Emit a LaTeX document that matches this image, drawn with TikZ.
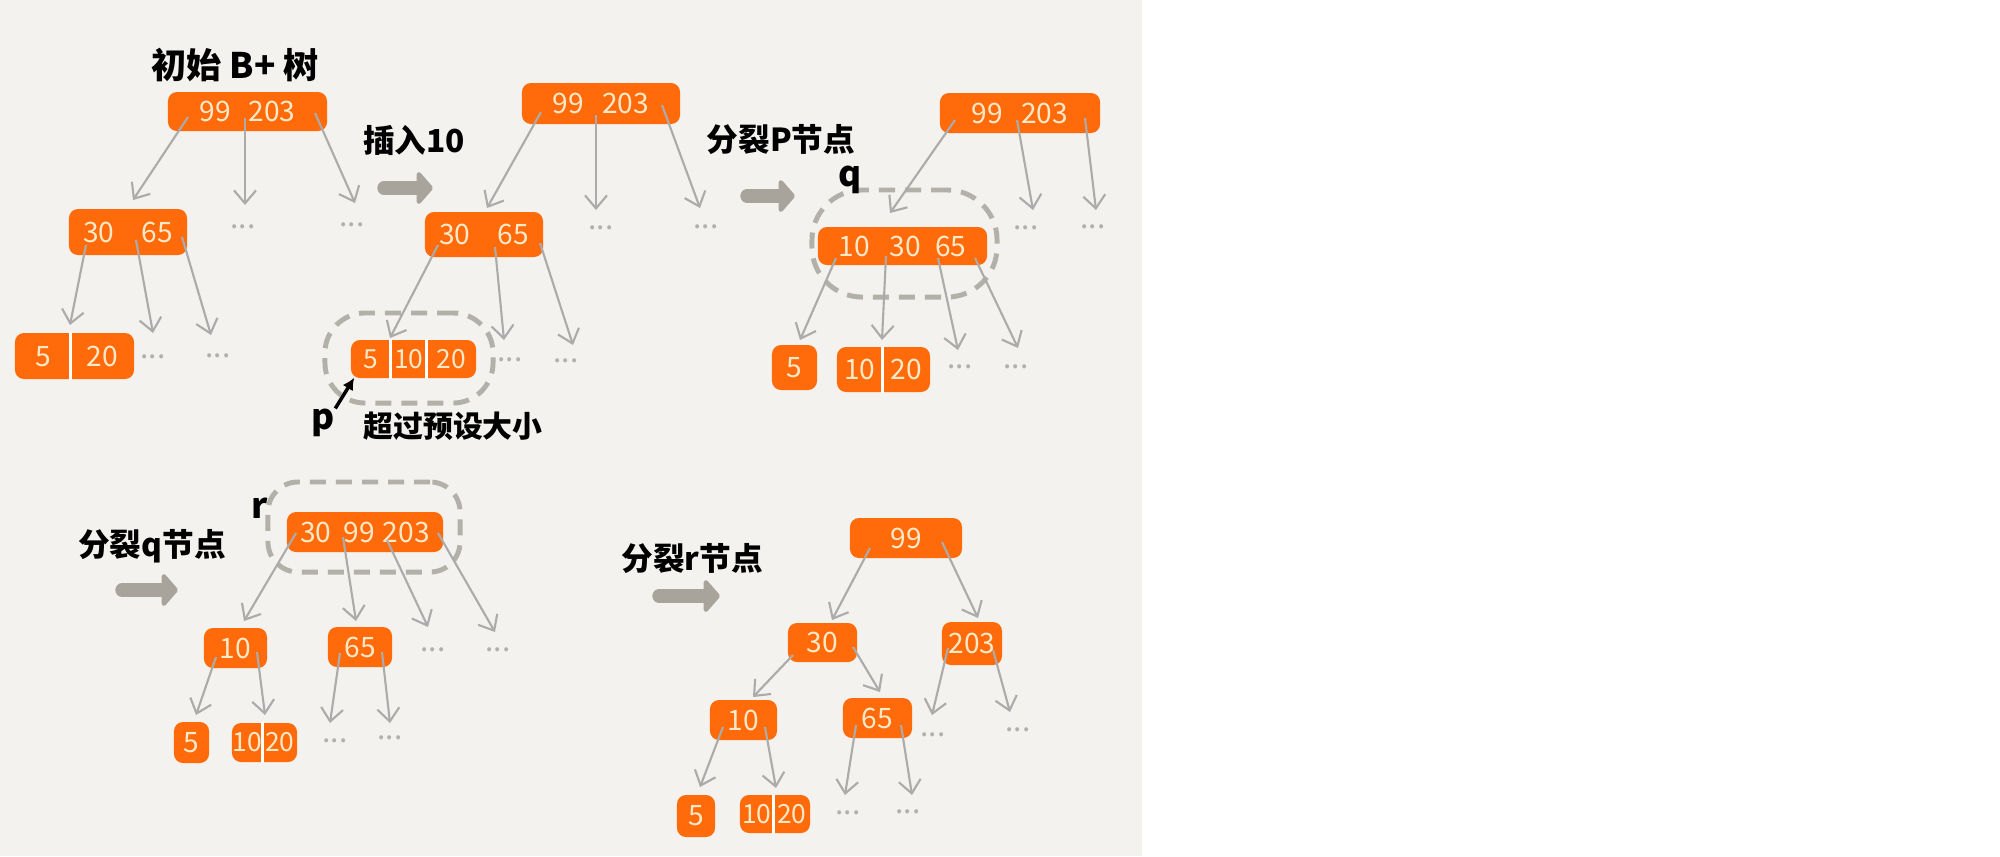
\documentclass[tikz,border=0pt]{standalone}
\usepackage{fontspec}
\setmainfont{Noto Sans CJK SC}
\usetikzlibrary{arrows.meta}
\definecolor{bg}{HTML}{F4F2EE}
\definecolor{org}{HTML}{FF6B0A}
\definecolor{cream}{HTML}{FDE8C8}
\definecolor{lnk}{HTML}{ABABAB}
\definecolor{dsh}{HTML}{B3B0AA}
\definecolor{bigarr}{HTML}{A8A49C}
\definecolor{dotc}{HTML}{B0B0B0}
\tikzset{
 key/.style={fill=org, rounded corners=0.09cm, inner sep=0pt, text=cream, font=\fontsize{8}{9}\selectfont},
 smallkey/.style={key, font=\fontsize{7.5}{9}\selectfont},
 con/.style={draw=lnk, line width=0.6pt, -{Straight Barb[length=0.13cm,width=0.22cm]}},
 dots/.style={text=dotc, font=\fontsize{8.5}{9}\selectfont, inner sep=0pt},
 lbl/.style={font=\fontsize{9}{11}\selectfont\bfseries, inner sep=0pt, text=black},
 ring/.style={draw=dsh, line width=1.4pt, dash pattern=on 0.16cm off 0.1cm},
 bigarrow/.style={draw=bigarr, line width=3.8pt, line cap=round, -{Triangle[round,length=0.17cm,width=0.38cm]}},
 divl/.style={draw=white, line width=0.7pt},
 ptr/.style={draw=black, line width=1pt, -{Latex[length=0.12cm,width=0.12cm]}},
}
\begin{document}
\begin{tikzpicture}[x=0.01cm,y=-0.01cm]
\useasboundingbox (0,0) rectangle (2000,856);
\fill[white] (0,0) rectangle (2000,856);
\fill[bg] (0,0) rectangle (1142,856);

% ---------- rings ----------
\node[ring, rounded corners=0.4cm, minimum width=1.68cm, minimum height=0.9cm] (e2) at (409,358) {};
\node[ring, rounded corners=0.5cm, minimum width=1.85cm, minimum height=1.07cm] (e3) at (904.5,243.5) {};
\node[ring, rounded corners=0.3cm, minimum width=1.92cm, minimum height=0.9cm] (e4) at (364,527) {};

% ---------- labels ----------
\node[lbl, font=\fontsize{10}{12}\selectfont\bfseries] (t1) at (235,65) {初始 B+ 树};
\node[lbl] (t2) at (414,140) {插入10};
\node[lbl, font=\fontsize{8.5}{10}\selectfont\bfseries] (t3) at (453,426) {超过预设大小};
\node[lbl] (t4) at (781,140) {分裂P节点};
\node[lbl] (t5) at (152,546) {分裂q节点};
\node[lbl] (t6) at (692,558) {分裂r节点};
\node[lbl, font=\fontsize{10}{12}\selectfont\bfseries] (p) at (323,423) {p};
\node[lbl, font=\fontsize{10}{12}\selectfont\bfseries] (q) at (850,180) {q};
\node[lbl, font=\fontsize{10}{12}\selectfont\bfseries] (r) at (260,508) {r};

% ---------- big arrows ----------
\coordinate (a1s) at (384,188); \coordinate (a1e) at (433,188);
\coordinate (a2s) at (747,196); \coordinate (a2e) at (795,196);
\coordinate (a3s) at (122,590); \coordinate (a3e) at (178,590);
\coordinate (a4s) at (659,596); \coordinate (a4e) at (720,596);
\draw[bigarrow] (a1s) -- (a1e);
\draw[bigarrow] (a2s) -- (a2e);
\draw[bigarrow] (a3s) -- (a3e);
\draw[bigarrow] (a4s) -- (a4e);

% ---------- panel 1 ----------
\node[key, minimum width=1.59cm, minimum height=0.39cm] (r1) at (247.5,111.5) {99\hspace{0.18cm}203};
\node[key, minimum width=1.18cm, minimum height=0.46cm] (n1) at (128,232) {30\hspace{0.27cm}65};
\node[key, minimum height=0.46cm] (l1) at (74.5,356) {\makebox[0.56cm]{5}\makebox[0.63cm]{20}};
\draw[divl] ([xshift=0.56cm]l1.north west) -- ([xshift=0.56cm]l1.south west);
\node[dots] (d1a) at (243,227) {...};
\node[dots] (d1b) at (352,225) {...};
\node[dots] (d1c) at (153,357) {...};
\node[dots] (d1d) at (218,356) {...};
\draw[con] ([shift={(-59.5,5.5)}]r1.center) -- ([shift={(5,-32)}]n1.center);
\draw[con] ([shift={(-2.5,6.5)}]r1.center) -- ([shift={(2,-22)}]d1a.center);
\draw[con] ([shift={(67.5,1.5)}]r1.center) -- ([shift={(3,-22)}]d1b.center);
\draw[con] ([shift={(-42,13)}]n1.center) -- ([shift={(-4.5,-31)}]l1.center);
\draw[con] ([shift={(8,8)}]n1.center) -- ([shift={(0,-24)}]d1c.center);
\draw[con] ([shift={(54,5)}]n1.center) -- ([shift={(-7,-21)}]d1d.center);

% ---------- panel 2 ----------
\node[key, minimum width=1.58cm, minimum height=0.41cm] (r2) at (601,103.5) {99\hspace{0.18cm}203};
\node[key, minimum width=1.18cm, minimum height=0.45cm] (n2) at (484,234.5) {30\hspace{0.27cm}65};
\node[smallkey, minimum height=0.38cm] (l2) at (413.5,359) {\makebox[0.40cm]{5}\makebox[0.36cm]{10}\makebox[0.49cm]{20}};
\draw[divl] ([xshift=0.40cm]l2.north west) -- ([xshift=0.40cm]l2.south west);
\draw[divl] ([xshift=0.76cm]l2.north west) -- ([xshift=0.76cm]l2.south west);
\node[dots] (d2a) at (601,228) {...};
\node[dots] (d2b) at (706,227) {...};
\node[dots] (d2c) at (510,360) {...};
\node[dots] (d2d) at (566,361) {...};
\draw[con] ([shift={(-60,8.5)}]r2.center) -- ([shift={(3,-26.5)}]n2.center);
\draw[con] ([shift={(-5,11.5)}]r2.center) -- ([shift={(-5,-18)}]d2a.center);
\draw[con] ([shift={(61,1.5)}]r2.center) -- ([shift={(-6,-19)}]d2b.center);
\draw[con] ([shift={(-46,10.5)}]n2.center) -- ([shift={(-23.5,-21)}]l2.center);
\draw[con] ([shift={(11,12.5)}]n2.center) -- ([shift={(-6,-20)}]d2c.center);
\draw[con] ([shift={(56,8.5)}]n2.center) -- ([shift={(7,-16)}]d2d.center);
\draw[ptr] (p.north east) -- ([shift={(4,-1)}]l2.south west);

% ---------- panel 3 ----------
\node[key, minimum width=1.60cm, minimum height=0.40cm] (r3) at (1020,113) {99\hspace{0.18cm}203};
\node[key, minimum width=1.69cm, minimum height=0.38cm] (n3) at (902.5,246) {10\hspace{0.2cm}30\hspace{0.14cm}65};
\node[key, minimum width=0.45cm, minimum height=0.45cm] (l3a) at (794.5,367.5) {5};
\node[key, minimum height=0.45cm] (l3b) at (883.5,369.5) {\makebox[0.46cm]{10}\makebox[0.47cm]{20}};
\draw[divl] ([xshift=0.46cm]l3b.north west) -- ([xshift=0.46cm]l3b.south west);
\node[dots] (d3a) at (1026,228) {...};
\node[dots] (d3b) at (1093,227) {...};
\node[dots] (d3c) at (960,367) {...};
\node[dots] (d3d) at (1016,367) {...};
\draw[con] ([shift={(-65,7)}]r3.center) -- ([shift={(-12.5,-33)}]n3.center);
\draw[con] ([shift={(-3,7)}]r3.center) -- ([shift={(7,-18)}]d3a.center);
\draw[con] ([shift={(65,5)}]r3.center) -- ([shift={(3,-17)}]d3b.center);
\draw[con] ([shift={(-66.5,12)}]n3.center) -- ([shift={(5.5,-27.5)}]l3a.center);
\draw[con] ([shift={(-16.5,10)}]n3.center) -- ([shift={(-1.5,-29.5)}]l3b.center);
\draw[con] ([shift={(35.5,12)}]n3.center) -- ([shift={(-2,-17)}]d3c.center);
\draw[con] ([shift={(72.5,12)}]n3.center) -- ([shift={(2,-19)}]d3d.center);

% ---------- panel 4 ----------
\node[key, minimum width=1.56cm, minimum height=0.40cm] (r4) at (365,532) {30\hspace{0.12cm}99\hspace{0.08cm}203};
\node[key, minimum width=0.63cm, minimum height=0.40cm] (n4a) at (235.5,648) {10};
\node[key, minimum width=0.64cm, minimum height=0.40cm] (n4b) at (360,647) {65};
\node[key, minimum width=0.35cm, minimum height=0.41cm] (l4a) at (191.5,742.5) {5};
\node[smallkey, minimum height=0.39cm] (l4b) at (264.5,742.5) {\makebox[0.31cm]{10}\makebox[0.34cm]{20}};
\draw[divl] ([xshift=0.31cm]l4b.north west) -- ([xshift=0.31cm]l4b.south west);
\node[dots] (d4a) at (433,650) {...};
\node[dots] (d4b) at (498,650) {...};
\node[dots] (d4c) at (335,741) {...};
\node[dots] (d4d) at (390,738) {...};
\draw[con] ([shift={(-69,1)}]r4.center) -- ([shift={(8.5,-27)}]n4a.center);
\draw[con] ([shift={(-22,5)}]r4.center) -- ([shift={(-4,-26)}]n4b.center);
\draw[con] ([shift={(22,8)}]r4.center) -- ([shift={(-5,-23)}]d4a.center);
\draw[con] ([shift={(73,1)}]r4.center) -- ([shift={(-3,-18)}]d4b.center);
\draw[con] ([shift={(-19.5,9)}]n4a.center) -- ([shift={(4.5,-27.5)}]l4a.center);
\draw[con] ([shift={(21.5,4)}]n4a.center) -- ([shift={(0.5,-27.5)}]l4b.center);
\draw[con] ([shift={(-20,6)}]n4b.center) -- ([shift={(-5,-18)}]d4c.center);
\draw[con] ([shift={(22,5)}]n4b.center) -- ([shift={(0,-15)}]d4d.center);

% ---------- panel 5 ----------
\node[key, minimum width=1.12cm, minimum height=0.40cm] (r5) at (906,538) {99};
\node[key, minimum width=0.69cm, minimum height=0.39cm] (n5a) at (822.5,642.5) {30};
\node[key, minimum width=0.60cm, minimum height=0.43cm] (n5b) at (972,643.5) {203};
\node[key, minimum width=0.67cm, minimum height=0.40cm] (n5c) at (743.5,720) {10};
\node[key, minimum width=0.69cm, minimum height=0.40cm] (n5d) at (877.5,718) {65};
\node[key, minimum width=0.38cm, minimum height=0.42cm] (l5a) at (696,816) {5};
\node[smallkey, minimum height=0.38cm] (l5b) at (775,814) {\makebox[0.34cm]{10}\makebox[0.36cm]{20}};
\draw[divl] ([xshift=0.34cm]l5b.north west) -- ([xshift=0.34cm]l5b.south west);
\node[dots] (d5a) at (933,735) {...};
\node[dots] (d5b) at (1018,730) {...};
\node[dots] (d5c) at (848,813) {...};
\node[dots] (d5d) at (908,812) {...};
\draw[con] ([shift={(-36,10)}]r5.center) -- ([shift={(9.5,-22.5)}]n5a.center);
\draw[con] ([shift={(36,4)}]r5.center) -- ([shift={(6,-25.5)}]n5b.center);
\draw[con] ([shift={(-29.5,12.5)}]n5a.center) -- ([shift={(9.5,-23)}]n5c.center);
\draw[con] ([shift={(30.5,4.5)}]n5a.center) -- ([shift={(2.5,-26)}]n5d.center);
\draw[con] ([shift={(-20.5,7)}]n5c.center) -- ([shift={(4,-29)}]l5a.center);
\draw[con] ([shift={(21.5,7)}]n5c.center) -- ([shift={(1,-26)}]l5b.center);
\draw[con] ([shift={(-21.5,7)}]n5d.center) -- ([shift={(-3,-18)}]d5c.center);
\draw[con] ([shift={(23.5,7)}]n5d.center) -- ([shift={(4,-17)}]d5d.center);
\draw[con] ([shift={(-24,4.5)}]n5b.center) -- ([shift={(-1,-20)}]d5a.center);
\draw[con] ([shift={(21,6.5)}]n5b.center) -- ([shift={(-8,-18)}]d5b.center);
\end{tikzpicture}
\end{document}
